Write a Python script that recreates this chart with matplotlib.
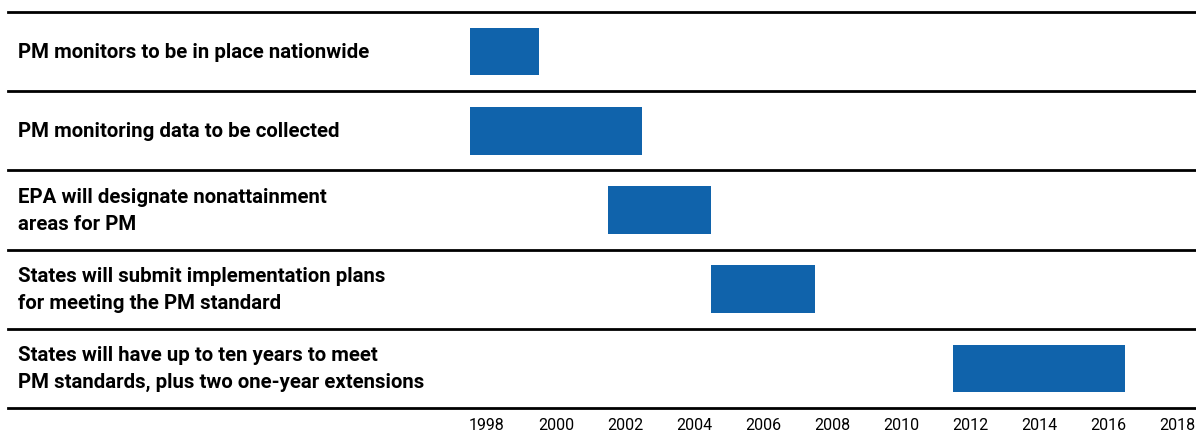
import matplotlib
matplotlib.use("Agg")
import matplotlib.pyplot as plt
from matplotlib.transforms import blended_transform_factory

# ---- data ----
tasks = [
    "PM monitors to be in place nationwide",
    "PM monitoring data to be collected",
    "EPA will designate nonattainment\nareas for PM",
    "States will submit implementation plans\nfor meeting the PM standard",
    "States will have up to ten years to meet\nPM standards, plus two one-year extensions",
]
starts = [1997.5, 1997.5, 2001.5, 2004.5, 2011.5]
ends = [1999.5, 2002.5, 2004.5, 2007.5, 2016.5]
years = [1998, 2000, 2002, 2004, 2006, 2008, 2010, 2012, 2014, 2016, 2018]

plt.rcParams["font.family"] = ["Roboto", "DejaVu Sans"]

W, H = 1196, 433
fig = plt.figure(figsize=(W / 100, H / 100), dpi=100)
ax = fig.add_axes([8 / W, (H - 408) / H, (W - 8) / W, (408 - 12) / H])

px_per_year = 34.5
x0 = 1998 + (8 - 487) / px_per_year
x1 = 1998 + (1196 - 487) / px_per_year
ax.set_xlim(x0, x1)
ax.set_ylim(len(tasks) - 0.5, -0.5)

color = "#1063AB"
for i, (s, e) in enumerate(zip(starts, ends)):
    ax.barh(i, e - s, left=s, height=0.6, color=color, zorder=2)

for i in range(len(tasks) + 1):
    ax.axhline(i - 0.5, color="black", lw=2, zorder=3, clip_on=False)

tr = blended_transform_factory(ax.transAxes, ax.transData)
for i, t in enumerate(tasks):
    ax.text(10 / (W - 8), i + 0.01, t, transform=tr, ha="left", va="center",
            fontsize=14.7, fontweight="bold", linespacing=1.5)

for sp in ax.spines.values():
    sp.set_visible(False)
ax.set_yticks([])
ax.set_xticks(years)
ax.set_xticklabels([str(y) for y in years], fontsize=11.5)
ax.tick_params(axis="x", length=0, pad=7)

fig.savefig("out.png", dpi=100)
